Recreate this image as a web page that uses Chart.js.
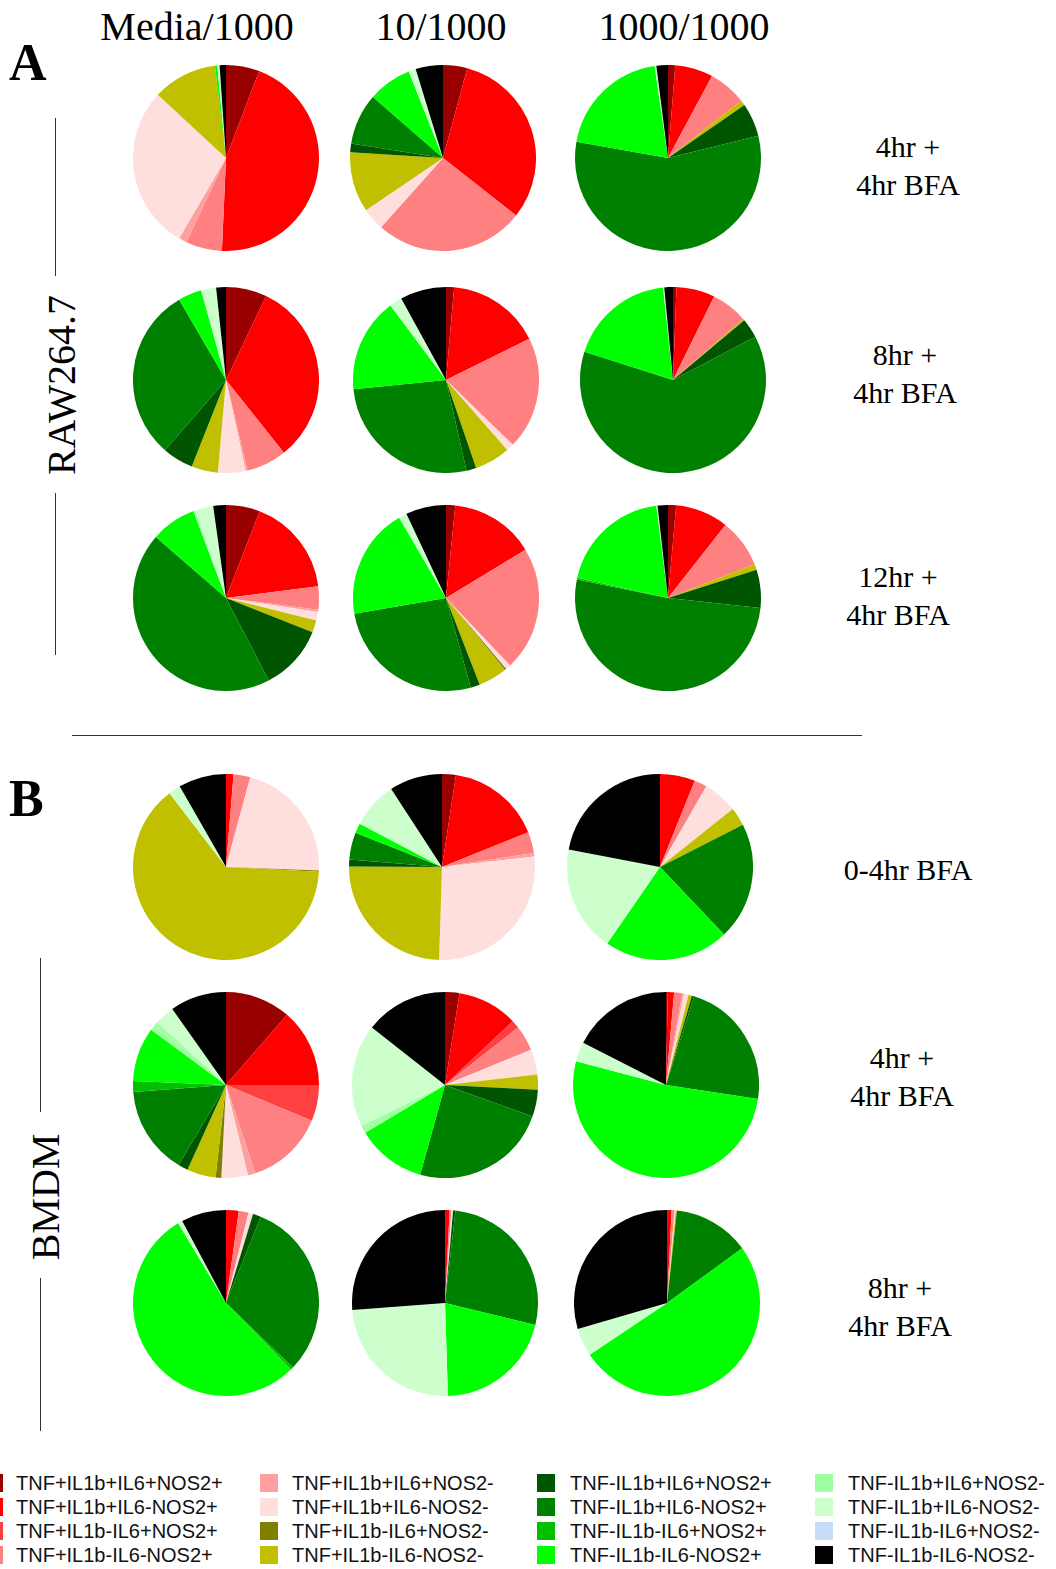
<!DOCTYPE html>
<html>
<head>
<meta charset="utf-8">
<script src="https://cdn.jsdelivr.net/npm/chart.js@4.4.0/dist/chart.umd.min.js"></script>
<style>
  html, body { margin: 0; padding: 0; background: #fff; }
  #page { position: relative; width: 1056px; height: 1569px; overflow: hidden; }
  .pie { position: absolute; }
  .serif { position: absolute; font-family: "Liberation Serif", "Times New Roman", serif; color: #000; white-space: nowrap; }
  .head { font-size: 40px; width: 260px; text-align: center; line-height: 40px; }
  .row { font-size: 30px; width: 220px; text-align: center; line-height: 38px; }
  .panel { font-size: 52px; font-weight: bold; line-height: 52px; }
  .side { font-size: 40px; line-height: 40px; transform: translate(-50%, -50%) rotate(-90deg); }
  .vline { position: absolute; width: 1px; background: #333; }
  .hline { position: absolute; height: 1px; background: #333; }
  .leg { position: absolute; font-family: "Liberation Sans", Arial, sans-serif; font-size: 20px; color: #111; white-space: nowrap; line-height: 22px; }
  .sw { position: absolute; width: 18px; height: 18px; }
</style>
</head>
<body>
<div id="page"></div>
<script>
// categories (clockwise from 12 o'clock)
const categories = [
    "TNF+IL1b+IL6+NOS2+", "TNF+IL1b+IL6-NOS2+", "TNF+IL1b-IL6+NOS2+", "TNF+IL1b-IL6-NOS2+",
    "TNF+IL1b+IL6+NOS2-", "TNF+IL1b+IL6-NOS2-", "TNF+IL1b-IL6+NOS2-", "TNF+IL1b-IL6-NOS2-",
    "TNF-IL1b+IL6+NOS2+", "TNF-IL1b+IL6-NOS2+", "TNF-IL1b-IL6+NOS2+", "TNF-IL1b-IL6-NOS2+",
    "TNF-IL1b+IL6+NOS2-", "TNF-IL1b+IL6-NOS2-", "TNF-IL1b-IL6+NOS2-", "TNF-IL1b-IL6-NOS2-"
];
const colors = [
    "#990000", "#ff0000", "#ff4040", "#ff8080",
    "#ffa0a0", "#ffdede", "#808000", "#c0c000",
    "#005500", "#008000", "#00c000", "#00ff00",
    "#a0ffa0", "#ccffcc", "#c8dcf8", "#000000"
];

const columnLabels = ["Media/1000", "10/1000", "1000/1000"];
const rowLabelsA = [["4hr +", "4hr BFA"], ["8hr +", "4hr BFA"], ["12hr +", "4hr BFA"]];
const rowLabelsB = [["0-4hr BFA"], ["4hr +", "4hr BFA"], ["8hr +", "4hr BFA"]];

// percentages per pie, in category order
// RAW264.7
const rawMedia4  = [5.8, 44.9, 0, 6.3, 1.4, 28.5, 0, 11.2, 0, 0, 0, 0.4, 0, 0.4, 0, 1.1];
const raw10_4    = [4.2, 31.4, 0, 26.0, 0, 3.9, 0, 10.5, 1.5, 8.9, 0, 7.6, 0, 1.25, 0, 4.75];
const raw1000_4  = [1.25, 6.6, 0, 6.6, 0, 0, 0, 0.9, 5.8, 56.6, 0, 19.9, 0, 0.3, 0, 2.0];
const rawMedia8  = [7.1, 32.2, 0, 7.0, 0.3, 4.8, 0, 4.6, 5.4, 30.2, 0, 4.1, 0, 2.6, 0, 1.7];
const raw10_8    = [1.4, 16.3, 0, 19.6, 0, 1.3, 0, 6.2, 1.7, 27.0, 0, 16.4, 0, 2.2, 0, 8.0];
const raw1000_8  = [0.6, 6.7, 0, 6.3, 0, 0, 0, 0.3, 3.4, 62.6, 0, 18.4, 0, 0.2, 0, 1.5];
const rawMedia12 = [5.9, 17.1, 0, 4.0, 0.4, 1.5, 0, 2.1, 11.4, 44.0, 0, 7.9, 0.3, 3.2, 0, 2.2];
const raw10_12   = [1.6, 14.7, 0, 21.6, 0, 0.9, 0.3, 5.0, 1.6, 26.6, 0, 19.3, 0, 1.4, 0, 7.0];
const raw1000_12 = [1.4, 9.2, 0, 8.5, 0, 0, 0, 1.0, 6.6, 51.5, 0.3, 19.5, 0, 0.2, 0, 1.8];
// BMDM
const bmMedia0   = [0, 1.3, 0, 2.9, 0, 21.4, 0.2, 63.8, 0, 0, 0, 0, 0, 2.1, 0, 8.3];
const bm10_0     = [2.4, 16.5, 0, 3.7, 0.6, 27.3, 0, 24.6, 1.2, 4.7, 0, 1.7, 0, 8.1, 0, 9.2];
const bm1000_0   = [0, 6.1, 0, 2.2, 0, 6.0, 0, 3.2, 0, 20.4, 0, 21.7, 0, 18.4, 0, 22.0];
const bmMedia4   = [11.4, 13.6, 6.3, 13.6, 1.3, 4.6, 1.0, 5.0, 1.7, 15.3, 1.9, 9.4, 1.7, 3.4, 0, 9.8];
const bm10_4     = [2.5, 10.5, 1.4, 4.4, 0, 4.4, 0, 2.6, 4.7, 23.8, 0, 12.1, 1.4, 17.8, 0, 14.4];
const bm1000_4   = [0.3, 1.1, 0, 1.4, 0.3, 0.8, 0, 0.6, 0.4, 22.5, 0, 51.7, 0, 3.4, 0, 17.5];
const bmMedia8   = [0, 2.2, 0, 1.7, 0, 0.8, 0, 0, 1.4, 31.1, 0.5, 53.7, 0, 0.8, 0, 7.8];
const bm10_8     = [0, 0.8, 0, 0.3, 0, 0.3, 0, 0, 0.4, 27.0, 0, 20.7, 0, 24.3, 0, 26.2];
const bm1000_8   = [0, 0.8, 0, 0.5, 0, 0.2, 0, 0.2, 0, 13.3, 0, 50.6, 0, 4.9, 0, 29.5];

const pieData = [
    rawMedia4, raw10_4, raw1000_4,
    rawMedia8, raw10_8, raw1000_8,
    rawMedia12, raw10_12, raw1000_12,
    bmMedia0, bm10_0, bm1000_0,
    bmMedia4, bm10_4, bm1000_4,
    bmMedia8, bm10_8, bm1000_8
];

// layout
const colX = [[226, 443, 668], [226, 446, 673], [226, 446, 668], [226, 442, 660], [226, 445, 666], [226, 445, 667]];
const rowY = [158, 380, 598, 867, 1085, 1303];
const R = 93;

const page = document.getElementById("page");

function addDiv(cls, text, left, top) {
    const d = document.createElement("div");
    d.className = cls;
    d.textContent = text;
    d.style.left = left + "px";
    d.style.top = top + "px";
    page.appendChild(d);
    return d;
}

pieData.forEach((vals, i) => {
    const r = Math.floor(i / 3), c = i % 3;
    const cv = document.createElement("canvas");
    cv.className = "pie";
    cv.width = R * 2;
    cv.height = R * 2;
    cv.style.left = (colX[r][c] - R) + "px";
    cv.style.top = (rowY[r] - R) + "px";
    page.appendChild(cv);
    new Chart(cv.getContext("2d"), {
        type: "pie",
        data: {
            labels: categories,
            datasets: [{
                data: vals,
                backgroundColor: colors,
                borderWidth: 0,
                offset: 0,
                hoverOffset: 0,
            }],
        },
        options: {
            responsive: false,
            animation: false,
            events: [],
            layout: { padding: 0 },
            plugins: {
                legend: { display: false },
                tooltip: { enabled: false },
            },
        },
    });
});

// column headers
const headX = [197, 441, 684];
columnLabels.forEach((t, i) => addDiv("serif head", t, headX[i] - 130, 7));

// panel letters
addDiv("serif panel", "A", 9, 37);
addDiv("serif panel", "B", 9, 773);

// row labels
const rowLabX = [908, 905, 898, 908, 902, 900];
const rowLabY = [147, 355, 577, 870, 1058, 1288];
rowLabelsA.concat(rowLabelsB).forEach((lines, i) => {
    lines.forEach((t, j) => addDiv("serif row", t, rowLabX[i] - 110, rowLabY[i] - 19 + j * 38));
});

// side labels
addDiv("serif side", "RAW264.7", 62, 385);
addDiv("serif side", "BMDM", 46, 1197);
function vline(x, y1, y2) {
    const d = document.createElement("div");
    d.className = "vline";
    d.style.left = x + "px"; d.style.top = y1 + "px"; d.style.height = (y2 - y1) + "px";
    page.appendChild(d);
}
vline(55, 118, 276);
vline(55, 493, 655);
vline(40, 958, 1112);
vline(40, 1278, 1431);
const hl = document.createElement("div");
hl.className = "hline";
hl.style.left = "72px"; hl.style.top = "735px"; hl.style.width = "790px";
page.appendChild(hl);

// legend
const legSwX = [-15, 260, 537, 815];
const legTextX = [16, 292, 570, 848];
const legRowY = [1483, 1507, 1531, 1555];
categories.forEach((name, i) => {
    const col = Math.floor(i / 4), row = i % 4;
    const sw = document.createElement("div");
    sw.className = "sw";
    sw.style.left = legSwX[col] + "px";
    sw.style.top = (legRowY[row] - 9) + "px";
    sw.style.background = colors[i];
    page.appendChild(sw);
    addDiv("leg", name, legTextX[col], legRowY[row] - 11);
});
</script>
</body>
</html>
